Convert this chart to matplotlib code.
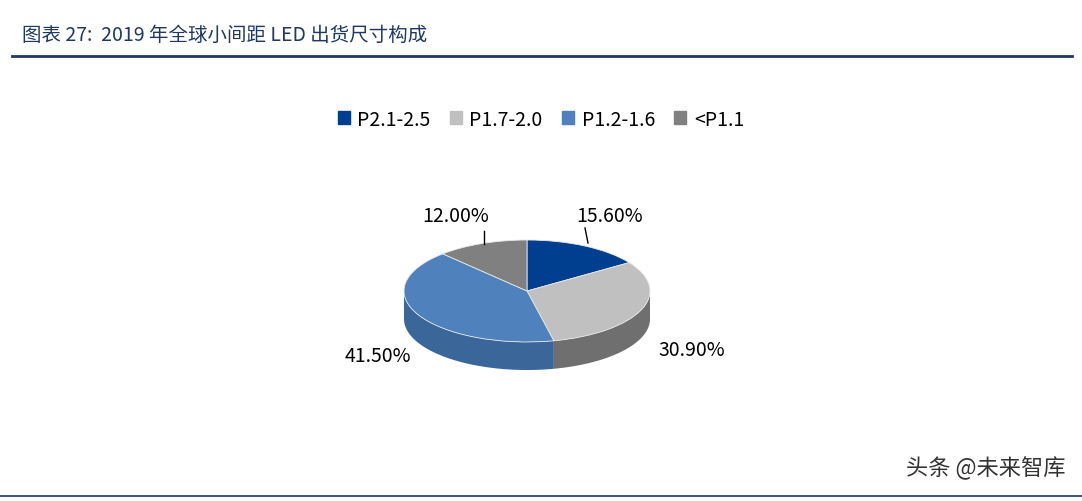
import numpy as np
import matplotlib
matplotlib.use("Agg")
import matplotlib.pyplot as plt
from matplotlib.patches import Patch

plt.rcParams['font.family'] = ['Noto Sans CJK SC', 'DejaVu Sans']

categories = ["P2.1-2.5", "P1.7-2.0", "P1.2-1.6", "<P1.1"]
values = [15.6, 30.9, 41.5, 12.0]
labels = ["15.60%", "30.90%", "41.50%", "12.00%"]
top_colors = ["#003f8f", "#c0c0c0", "#4f81bd", "#808080"]
side_colors = ["#002a60", "#6f6f6f", "#3a6699", "#555555"]

W, H = 1082, 502
fig = plt.figure(figsize=(W/100, H/100), dpi=100)
cx, cy, rx, ry, depth = 527, 502-292, 123, 51, 28
ax = fig.add_axes([(cx-2*rx)/W, (cy-2*ry)/H, 4*rx/W, 4*ry/H])
d = depth/ry

fr = np.array(values)/sum(values)
cum = np.concatenate([[0], np.cumsum(fr)])
for i in range(len(values)):
    a1 = 90 - cum[i+1]*360
    a0 = 90 - cum[i]*360
    lo, hi = max(a1, -180), min(a0, 0)
    if lo < hi:
        t = np.radians(np.linspace(lo, hi, 100))
        x = np.cos(t); y = np.sin(t)
        ax.fill(np.concatenate([x, x[::-1]]), np.concatenate([y, y[::-1]-d]),
                color=side_colors[i], lw=0, zorder=1)
ax.pie(values, colors=top_colors, startangle=90, counterclock=False, radius=1,
       wedgeprops=dict(linewidth=0.6, edgecolor='#e8e8e8'))
ax.set_aspect('auto')
ax.set_xlim(-2, 2); ax.set_ylim(-2, 2)
ax.axis('off')

pos = [(610, 217), (692, 351), (378, 356), (456, 217)]
for (px, py), lab in zip(pos, labels):
    fig.text(px/W, 1-py/H, lab, ha='center', va='center', fontsize=14, color='black')
for (x0, y0, x1, y1) in [(585, 229, 588, 244), (484, 232, 484, 245)]:
    fig.add_artist(plt.Line2D([x0/W, x1/W], [1-y0/H, 1-y1/H], color='black', lw=1))

handles = [Patch(color=c) for c in top_colors]
fig.legend(handles, categories, loc='center', bbox_to_anchor=(541/W, 1-120/H), ncol=4,
           frameon=False, fontsize=14, handlelength=0.6, handleheight=0.6,
           columnspacing=1.0, handletextpad=0.4)

fig.text(22/W, 1-35/H, "图表 27:  2019 年全球小间距 LED 出货尺寸构成", fontsize=14,
         style='italic', color='#1f3864', va='center', ha='left')
fig.add_artist(plt.Line2D([12/W, 1072/W], [1-57/H, 1-57/H], color='#1f3864', lw=2))
fig.add_artist(plt.Line2D([0, 1], [1-497/H, 1-497/H], color='#1f3864', lw=1.2))
fig.text(1065/W, 1-468/H, "头条 @未来智库", fontsize=16, color='#333333', ha='right', va='center')

fig.savefig("out.png", dpi=100, facecolor='white')
